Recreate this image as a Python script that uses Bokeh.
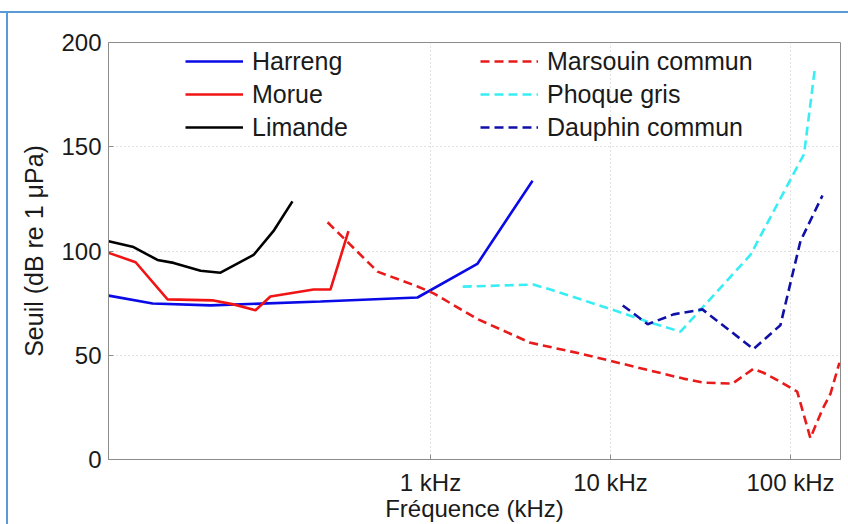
from bokeh.plotting import figure
from bokeh.models import FixedTicker, Legend, LegendItem, Range1d
from bokeh.embed import file_html
from bokeh.resources import INLINE

# ---- data (frequency in kHz, threshold in dB re 1 uPa) ----
harreng_f = [0.0163, 0.0286, 0.060, 0.245, 0.847, 1.82, 3.69]
harreng_v = [78.6, 74.8, 73.9, 75.8, 77.7, 93.8, 133.7]

morue_f = [0.0163, 0.0230, 0.0346, 0.0623, 0.0805, 0.1066, 0.129, 0.224, 0.278, 0.350]
morue_v = [99.1, 94.6, 76.8, 76.3, 74.4, 71.6, 78.2, 81.5, 81.5, 109.5]

limande_f = [0.0163, 0.0224, 0.0304, 0.0374, 0.0528, 0.0681, 0.104, 0.134, 0.171]
limande_v = [104.7, 101.9, 95.7, 94.3, 90.5, 89.6, 98.1, 109.5, 123.8]

marsouin_f = [0.268, 0.508, 0.847, 1.04, 1.82, 3.59, 6.81, 10.0, 25.4, 32.8, 47.6,
              62.3, 70.8, 87.9, 109, 129, 150.6, 167, 187]
marsouin_v = [113.8, 90.1, 83.0, 79.7, 67.4, 56.0, 50.8, 47.3, 38.8, 36.9, 36.4,
              43.5, 41.6, 37.3, 32.6, 10.3, 24.1, 31.6, 46.4]

phoque_f = [1.51, 3.73, 4.64, 10.4, 16.1, 24.5, 59.9, 119, 137]
phoque_v = [82.9, 83.9, 81.5, 71.7, 66.1, 61.3, 98.1, 146.5, 188.2]

dauphin_f = [11.7, 16.1, 22.4, 32.4, 62.3, 87.9, 113.6, 150.6]
dauphin_v = [73.9, 64.9, 69.6, 72.0, 53.0, 64.4, 104.7, 126.6]

x_ticks = [1, 10, 100]
x_tick_labels = ["1 kHz", "10 kHz", "100 kHz"]
y_ticks = [0, 50, 100, 150, 200]
x_title = "Fréquence (kHz)"
y_title = "Seuil (dB re 1 μPa)"

FONT = "Liberation Sans"
TXT = "#1a1a1a"

W, H = 848, 524
BL, BR, BT, BB = 108, 8, 42, 60

p = figure(width=W, height=H, x_axis_type="log",
           x_range=Range1d(10 ** -1.789, 10 ** 2.278), y_range=Range1d(0, 200),
           output_backend="svg", toolbar_location=None,
           min_border_left=BL, min_border_right=BR, min_border_top=BT, min_border_bottom=BB)

p.border_fill_color = None
p.background_fill_color = "white"
p.styles = {"background": "linear-gradient(#5b9bd5,#5b9bd5) 0 11px / 100% 2px no-repeat, "
                          "linear-gradient(#5b9bd5,#5b9bd5) 6px 11px / 2px 100% no-repeat, white"}
p.outline_line_color = "#8c8c8c"
p.outline_line_width = 1

# axes
for ax in (p.xaxis[0], p.yaxis[0]):
    ax.axis_line_color = "#8c8c8c"
    ax.major_tick_line_color = "#8c8c8c"
    ax.major_tick_in = 5
    ax.major_tick_out = 0
    ax.minor_tick_line_color = None
    ax.major_label_text_font = FONT
    ax.major_label_text_font_size = "24px"
    ax.major_label_text_color = TXT
    ax.axis_label_text_font = FONT
    ax.axis_label_text_font_size = "25px"
    ax.axis_label_text_font_style = "normal"
    ax.axis_label_text_color = TXT

p.xaxis.ticker = FixedTicker(ticks=x_ticks)
p.xaxis.major_label_overrides = {t: l for t, l in zip(x_ticks, x_tick_labels)}
p.xaxis.major_label_standoff = 9
p.xaxis.axis_label = x_title
p.xaxis.axis_label_standoff = -4
p.xaxis.axis_label_text_font_size = "24px"

p.yaxis.ticker = FixedTicker(ticks=y_ticks)
p.yaxis.axis_label = y_title
p.yaxis.major_label_standoff = 7
p.yaxis.axis_label_standoff = 10

p.xgrid.ticker = FixedTicker(ticks=x_ticks)
p.ygrid.ticker = FixedTicker(ticks=y_ticks)
for g in (p.xgrid[0], p.ygrid[0]):
    g.grid_line_color = "#c4c4c4"
    g.grid_line_dash = "1 3"
    g.grid_line_width = 1

LW = 2.6
DASH = "9 5"
r_h = p.line(harreng_f, harreng_v, line_color="#0a0ae6", line_width=LW)
r_m = p.line(morue_f, morue_v, line_color="#f01414", line_width=LW)
r_l = p.line(limande_f, limande_v, line_color="#000000", line_width=LW)
r_ma = p.line(marsouin_f, marsouin_v, line_color="#e81a1a", line_width=LW, line_dash=DASH)
r_p = p.line(phoque_f, phoque_v, line_color="#38eef4", line_width=LW, line_dash=DASH)
r_d = p.line(dauphin_f, dauphin_v, line_color="#1010a8", line_width=LW, line_dash=DASH)


def make_legend(items, loc):
    lg = Legend(items=items, location=loc, orientation="vertical",
                border_line_color=None, background_fill_alpha=0,
                padding=0, margin=0, spacing=3,
                glyph_width=58, glyph_height=30, label_height=30,
                label_standoff=9, label_text_font=FONT,
                label_text_font_size="25px", label_text_color=TXT)
    p.add_layout(lg, "center")
    return lg


make_legend([LegendItem(label="Harreng", renderers=[r_h]),
             LegendItem(label="Morue", renderers=[r_m]),
             LegendItem(label="Limande", renderers=[r_l])], (77, 317))
make_legend([LegendItem(label="Marsouin commun", renderers=[r_ma]),
             LegendItem(label="Phoque gris", renderers=[r_p]),
             LegendItem(label="Dauphin commun", renderers=[r_d])], (372, 317))

open("out.html", "w").write(file_html(p, INLINE))
